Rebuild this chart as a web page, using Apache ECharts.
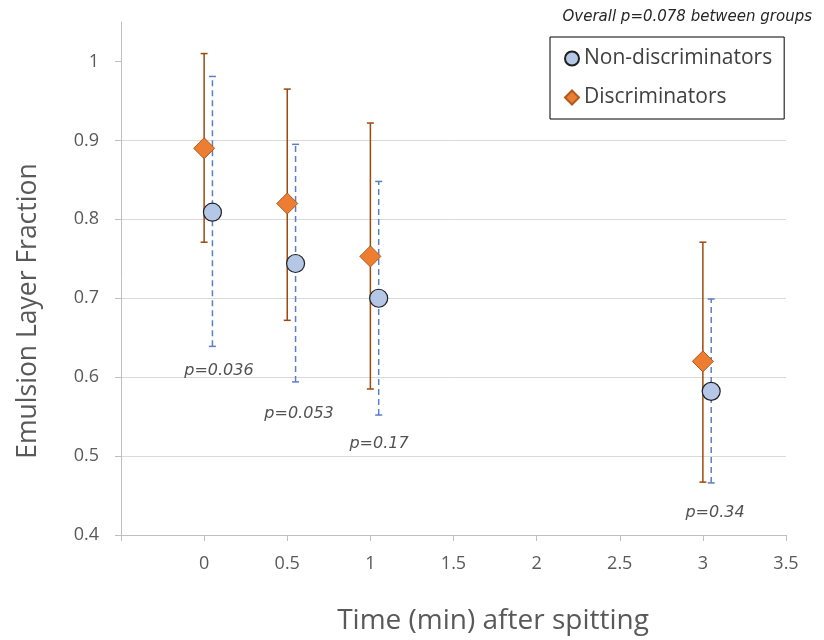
<!DOCTYPE html>
<html>
<head>
<meta charset="utf-8">
<script src="https://cdn.jsdelivr.net/npm/echarts@6/dist/echarts.min.js"></script>
<style>html,body{margin:0;padding:0;background:#fff}#c{width:824px;height:640px}</style>
</head>
<body>
<div id="c"></div>
<script>
// ---- data ----
var discTime = [0, 0.5, 1, 3];
var discMean = [0.890, 0.820, 0.753, 0.620];
var discLow  = [0.771, 0.672, 0.585, 0.467];
var discHigh = [1.010, 0.965, 0.922, 0.771];

var nonTime = [0.05, 0.55, 1.05, 3.05];
var nonMean = [0.809, 0.744, 0.700, 0.582];
var nonLow  = [0.639, 0.594, 0.552, 0.466];
var nonHigh = [0.981, 0.895, 0.848, 0.699];

var pTexts = ['p=0.036', 'p=0.053', 'p=0.17', 'p=0.34'];
var pX = [0.089, 0.571, 1.052, 3.073];
var pY = [0.608, 0.554, 0.516, 0.428];

var yTicks = [0.4, 0.5, 0.6, 0.7, 0.8, 0.9, 1.0];

function zip3(a, b, c) { return a.map(function (v, i) { return [v, b[i], c[i]]; }); }
function zip2(a, b) { return a.map(function (v, i) { return [v, b[i]]; }); }

function errRender(color, dash) {
  return function (params, api) {
    var x = api.value(0);
    var lo = api.coord([x, api.value(1)]);
    var hi = api.coord([x, api.value(2)]);
    var w = 3.5;
    var st = { stroke: color, lineWidth: 1.5, lineDash: dash };
    var cs = { stroke: color, lineWidth: 1.5 };
    return {
      type: 'group',
      children: [
        { type: 'line', shape: { x1: lo[0], y1: lo[1], x2: hi[0], y2: hi[1] }, style: st },
        { type: 'line', shape: { x1: lo[0] - w, y1: lo[1], x2: lo[0] + w, y2: lo[1] }, style: cs },
        { type: 'line', shape: { x1: hi[0] - w, y1: hi[1], x2: hi[0] + w, y2: hi[1] }, style: cs }
      ]
    };
  };
}

var chart = echarts.init(document.getElementById('c'), null, { renderer: 'canvas' });
var font = '"Open Sans", "Liberation Sans", sans-serif';
var pfont = '"DejaVu Sans", sans-serif';
chart.setOption({
  animation: false,
  backgroundColor: '#fff',
  textStyle: { fontFamily: font },
  grid: { left: 121, right: 38, top: 22, bottom: 105 },
  xAxis: {
    type: 'value', min: -0.5, max: 3.5, interval: 0.5,
    axisLine: { show: true, onZero: false, lineStyle: { color: '#BFBFBF', width: 1 } },
    axisTick: { show: true, length: 6, lineStyle: { color: '#BFBFBF' } },
    axisLabel: {
      color: '#595959', fontSize: 18, margin: 20, fontFamily: font,
      formatter: function (v) { return v < 0 ? '' : String(v); }
    },
    splitLine: { show: false }
  },
  yAxis: {
    type: 'value', min: 0.4, max: 1.05, interval: 0.1,
    axisLine: { show: true, onZero: false, lineStyle: { color: '#BFBFBF', width: 1 } },
    axisTick: { show: true, length: 6, lineStyle: { color: '#BFBFBF' }, customValues: yTicks },
    axisLabel: {
      color: '#595959', fontSize: 18, margin: 22, fontFamily: font,
      customValues: yTicks,
      formatter: function (v) { return (Math.round(v * 10) / 10).toString(); }
    },
    splitLine: { show: true, showMaxLine: false, showMinLine: false, lineStyle: { color: '#D9D9D9', width: 1 } }
  },
  legend: {
    data: ['Non-discriminators', 'Discriminators'],
    orient: 'vertical',
    left: 550, top: 37,
    padding: [11, 12, 11, 14],
    itemGap: 18,
    itemWidth: 14, itemHeight: 14,
    borderColor: '#000', borderWidth: 1,
    textStyle: { fontSize: 21, color: '#404040', fontFamily: font }
  },
  graphic: [
    { type: 'text', right: 12, top: 10, style: { text: 'Overall p=0.078 between groups', fontSize: 15, fontStyle: 'italic', fill: '#262626', fontFamily: pfont } },
    { type: 'text', x: 28, y: 311, rotation: Math.PI / 2, style: { text: 'Emulsion Layer Fraction', fontSize: 26.5, fill: '#595959', fontFamily: font, align: 'center', verticalAlign: 'middle' } },
    { type: 'text', x: 493, y: 621, style: { text: 'Time (min) after spitting', fontSize: 28, fill: '#595959', fontFamily: font, align: 'center', verticalAlign: 'middle' } }
  ],
  series: [
    {
      name: 'errDisc', type: 'custom', renderItem: errRender('#9E480E', null),
      data: zip3(discTime, discLow, discHigh), z: 1, silent: true
    },
    {
      name: 'errNon', type: 'custom', renderItem: errRender('#5B7FC4', [6, 4]),
      data: zip3(nonTime, nonLow, nonHigh), z: 1, silent: true
    },
    {
      name: 'Non-discriminators', type: 'scatter', symbol: 'circle', symbolSize: 18,
      itemStyle: { color: '#B4C7E7', borderColor: '#1F1F1F', borderWidth: 1.2, opacity: 1 },
      data: zip2(nonTime, nonMean), z: 3
    },
    {
      name: 'Discriminators', type: 'scatter', symbol: 'diamond', symbolSize: 21,
      itemStyle: { color: '#ED7D31', borderColor: '#AE5A21', borderWidth: 1, opacity: 1 },
      data: zip2(discTime, discMean), z: 3
    },
    {
      name: 'pvals', type: 'scatter', symbolSize: 0, silent: true,
      data: pX.map(function (x, i) { return { value: [x, pY[i]], name: pTexts[i] }; }),
      label: {
        show: true, position: 'inside', formatter: '{b}',
        fontSize: 16, fontStyle: 'italic', color: '#262626', fontFamily: pfont
      },
      z: 4
    }
  ]
});
</script>
</body>
</html>
